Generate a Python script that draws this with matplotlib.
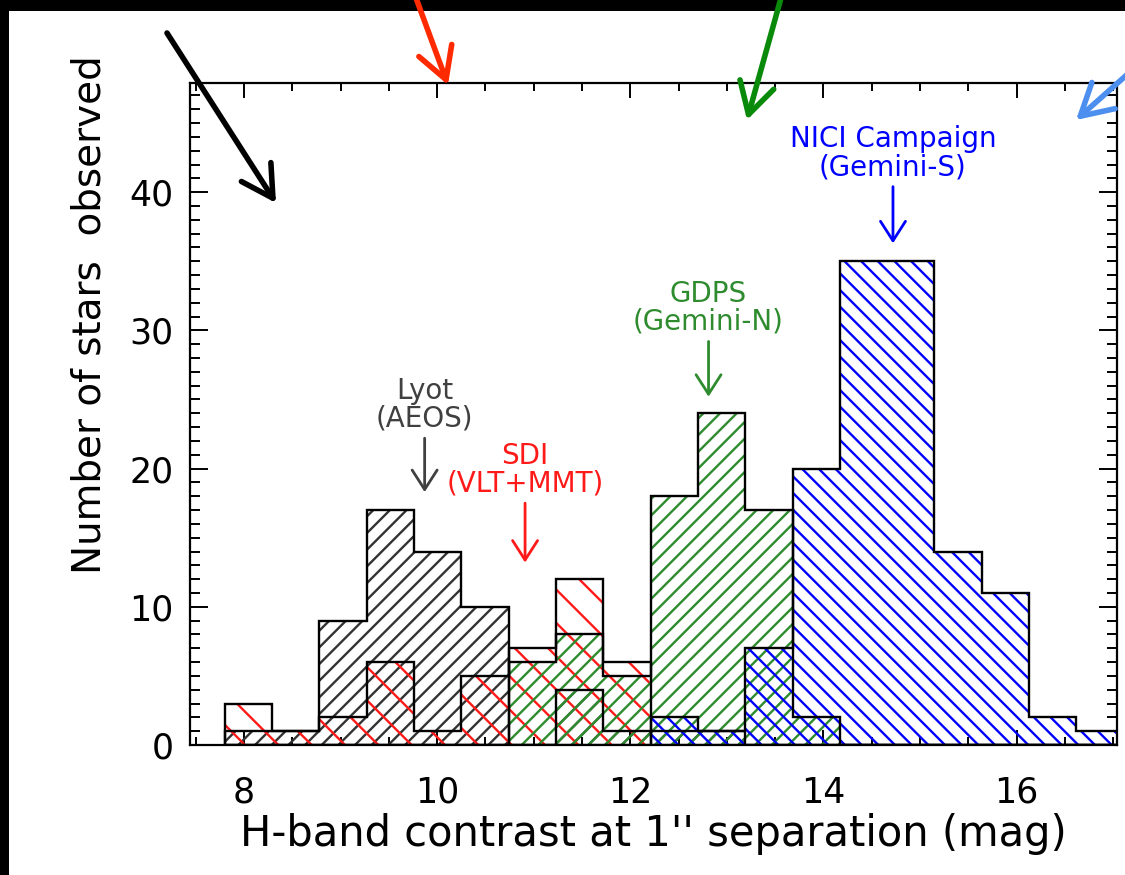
import numpy as np
import matplotlib
matplotlib.use("Agg")
import matplotlib.pyplot as plt
from matplotlib.patches import Rectangle, FancyArrowPatch

# bin edges (mag) and star counts per survey
edges = [7.80, 8.29, 8.78, 9.27, 9.76, 10.25, 10.74, 11.23, 11.72, 12.21,
         12.70, 13.19, 13.68, 14.17, 14.66, 15.15, 15.64, 16.13, 16.62, 17.11]
lyot = [1, 1, 9, 17, 14, 10, 0, 4, 1, 1, 1, 0, 0, 0, 0, 0, 0, 0, 0]
sdi = [3, 1, 2, 6, 1, 5, 7, 12, 6, 0, 0, 0, 0, 0, 0, 0, 0, 0, 0]
gdps = [0, 0, 0, 0, 0, 0, 6, 8, 5, 18, 24, 17, 2, 0, 0, 0, 0, 0, 0]
nici = [0, 0, 0, 0, 0, 0, 0, 0, 0, 2, 1, 7, 20, 35, 35, 14, 11, 2, 1]

labels = ["Lyot\n(AEOS)", "SDI\n(VLT+MMT)", "GDPS\n(Gemini-N)", "NICI Campaign\n(Gemini-S)"]
label_x = [9.87, 10.91, 12.81, 14.72]
label_y = [22.6, 17.9, 29.6, 40.8]
arrow_tip = [18.3, 13.2, 25.2, 36.3]
colors = ["#333333", "#ff1a1a", "#2e8b2e", "#0000ff"]
text_colors = ["#404040", "#ff1a1a", "#2e8b2e", "#0000ff"]
hatches = ["//", "\\", "//", "\\\\"]

plt.rcParams["hatch.linewidth"] = 1.7

fig = plt.figure(figsize=(11.25, 8.75), dpi=100, facecolor="white")
ax = fig.add_axes([190 / 1125, 1 - 745 / 875, 927 / 1125, 662 / 875])

for vals, c, h in zip([lyot, sdi, gdps, nici], colors, hatches):
    ax.stairs(vals, edges, baseline=0, fill=True, facecolor="none",
              edgecolor=c, hatch=h, linewidth=0, zorder=2)
for vals in [lyot, sdi, gdps, nici]:
    ax.stairs(vals, edges, baseline=0, color="black", linewidth=1.7, zorder=3)

for txt, x, y, tip, c in zip(labels, label_x, label_y, arrow_tip, text_colors):
    ax.text(x, y, txt, ha="center", va="bottom", color=c, fontsize=20,
            linespacing=1.0)
    ax.annotate("", xy=(x, tip), xytext=(x, y - 0.4),
                arrowprops=dict(arrowstyle="->,head_length=0.7,head_width=0.45",
                                color=c, lw=2, mutation_scale=20,
                                shrinkA=0, shrinkB=0))

ax.set_xlim(7.44, 17.04)
ax.set_ylim(0, 47.9)
ax.set_xticks([8, 10, 12, 14, 16])
ax.set_xticks(np.arange(7.5, 17.01, 0.5), minor=True)
ax.set_yticks([0, 10, 20, 30, 40])
ax.set_yticks(np.arange(0, 48, 1), minor=True)
ax.tick_params(which="both", direction="in", top=True, right=True, width=1.4,
               labelsize=25)
ax.tick_params(axis="x", which="major", length=11, pad=22)
ax.tick_params(axis="x", which="minor", length=5.5)
ax.tick_params(axis="y", which="major", length=13, pad=12)
ax.tick_params(axis="y", which="minor", length=7)
for s in ax.spines.values():
    s.set_linewidth(1.6)

ax.set_xlabel("H-band contrast at 1'' separation (mag)", fontsize=30)
ax.set_ylabel("Number of stars  observed", fontsize=28)
ax.xaxis.set_label_coords(0.5, -0.102)
ax.yaxis.set_label_coords(-0.088, 0.65)

# black slide border
fig.add_artist(Rectangle((0, 1 - 11 / 875), 1, 11 / 875, transform=fig.transFigure,
                         facecolor="black", edgecolor="none", zorder=4))
fig.add_artist(Rectangle((0, 0), 9 / 1125, 1, transform=fig.transFigure,
                         facecolor="black", edgecolor="none", zorder=4))

# slide arrows pointing into the plot
slide_arrows = [((167, 33), (276, 203), "black"),
                ((416, -2), (448, 85), "#ff2a00"),
                ((781, -2), (747, 120), "#0a8a0a"),
                ((1130, 72), (1076, 120), "#4d8fef")]
for (x0, y0), (x1, y1), c in slide_arrows:
    fig.add_artist(FancyArrowPatch((x0 / 1125, 1 - y0 / 875), (x1 / 1125, 1 - y1 / 875),
                                   transform=fig.transFigure,
                                   arrowstyle="->,head_length=0.8,head_width=0.45",
                                   mutation_scale=28, color=c, lw=4, zorder=5,
                                   shrinkA=0, shrinkB=0))

fig.savefig("out.png", dpi=100, facecolor="white")
